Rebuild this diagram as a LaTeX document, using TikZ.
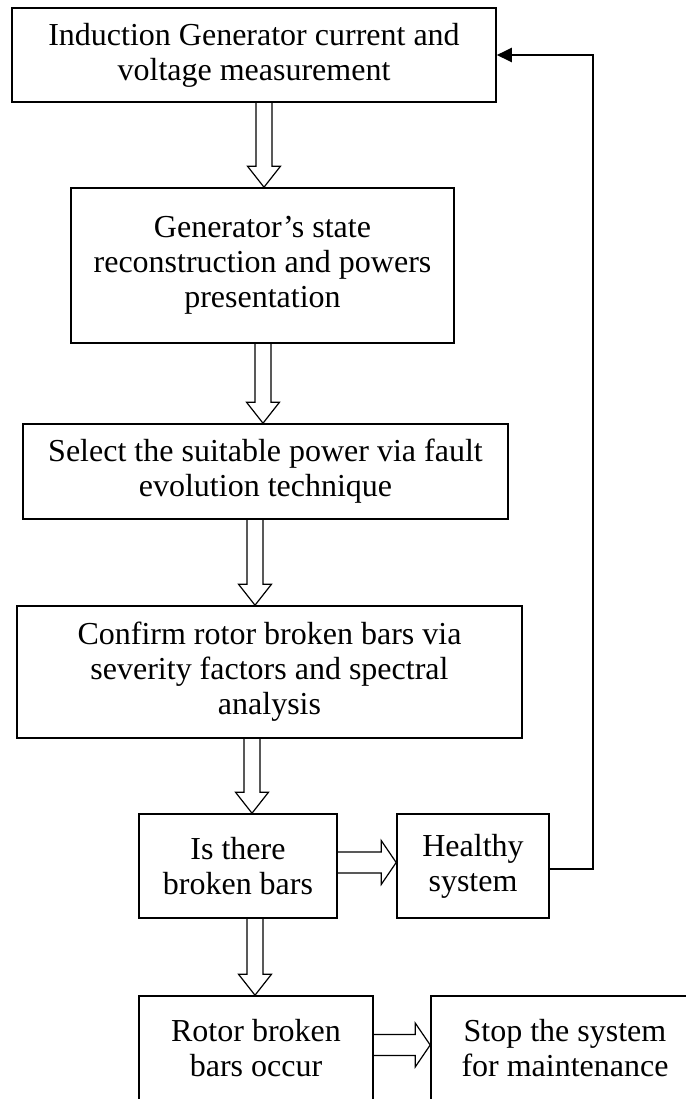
\documentclass[tikz,border=0pt]{standalone}
\usepackage{fontspec}
\setmainfont{Liberation Serif}
\usetikzlibrary{arrows.meta,calc}

\tikzset{
  blockbox/.style={draw, line width=0.8pt, align=center, inner sep=0pt, font=\fontsize{16}{17.5}\selectfont},
  blockarrow/.style={draw, line width=0.6pt, line join=miter},
  feedback/.style={line width=1.1pt, -{Triangle[length=7.5pt,width=7pt]}}
}

% hollow arrow downwards: upper node, lower node, point on the axis
\newcommand{\downblock}[3]{%
  \draw[blockarrow] let \p1=(#1.south), \p2=(#2.north), \p3=(#3) in
    (\x3-4pt,\y1) -- (\x3-4pt,\y2+10.5pt) -- (\x3-8.25pt,\y2+10.5pt) -- (\x3,\y2)
    -- (\x3+8.25pt,\y2+10.5pt) -- (\x3+4pt,\y2+10.5pt) -- (\x3+4pt,\y1);}
% hollow arrow to the right: left node, right node, point on the axis
\newcommand{\rightblock}[3]{%
  \draw[blockarrow] let \p1=(#1.east), \p2=(#2.west), \p3=(#3) in
    (\x1,\y3+5.25pt) -- (\x2-7.5pt,\y3+5.25pt) -- (\x2-7.5pt,\y3+11pt) -- (\x2,\y3)
    -- (\x2-7.5pt,\y3-11pt) -- (\x2-7.5pt,\y3-5.25pt) -- (\x1,\y3-5.25pt);}

\begin{document}
\begin{tikzpicture}[x=0.5pt, y=-0.5pt]
  \useasboundingbox (0,0) rectangle (686,1099);
  \clip (0,0) rectangle (686,1099);

  \node[blockbox, minimum width=242pt, minimum height=47pt] (gen) at (254,55) {Induction Generator current and\\voltage measurement};
  \node[blockbox, minimum width=191.5pt, minimum height=77.5pt] (state) at (262.5,265.5) {Generator’s state\\reconstruction and powers\\presentation};
  \node[blockbox, minimum width=242.5pt, minimum height=47.5pt] (select) at (265.5,471.5) {Select the suitable power via fault\\evolution technique};
  \node[blockbox, minimum width=252.5pt, minimum height=66pt] (confirm) at (269.5,672) {Confirm rotor broken bars via\\severity factors and spectral\\analysis};
  \node[blockbox, minimum width=99pt, minimum height=52pt] (isbroken) at (238,866) {Is there\\broken bars};
  \node[blockbox, minimum width=76pt, minimum height=52pt] (healthy) at (473,866) {Healthy\\system};
  \node[blockbox, minimum width=117pt, minimum height=52pt] (rotor) at (256,1048) {Rotor broken\\bars occur};
  \node[blockbox, minimum width=134pt, minimum height=52pt] (stop) at (565,1048) {Stop the system\\for maintenance};

  \downblock{gen}{state}{264,0}
  \downblock{state}{select}{263,0}
  \downblock{select}{confirm}{255,0}
  \downblock{confirm}{isbroken}{252,0}
  \downblock{isbroken}{rotor}{255,0}
  \rightblock{isbroken}{healthy}{0,862.5}
  \rightblock{rotor}{stop}{0,1045}

  \coordinate (loop) at (593,0);
  \draw[feedback] ([yshift=-1.5pt]healthy.east) -- ([yshift=-1.5pt]healthy.east -| loop) |- (gen.east);
\end{tikzpicture}
\end{document}
